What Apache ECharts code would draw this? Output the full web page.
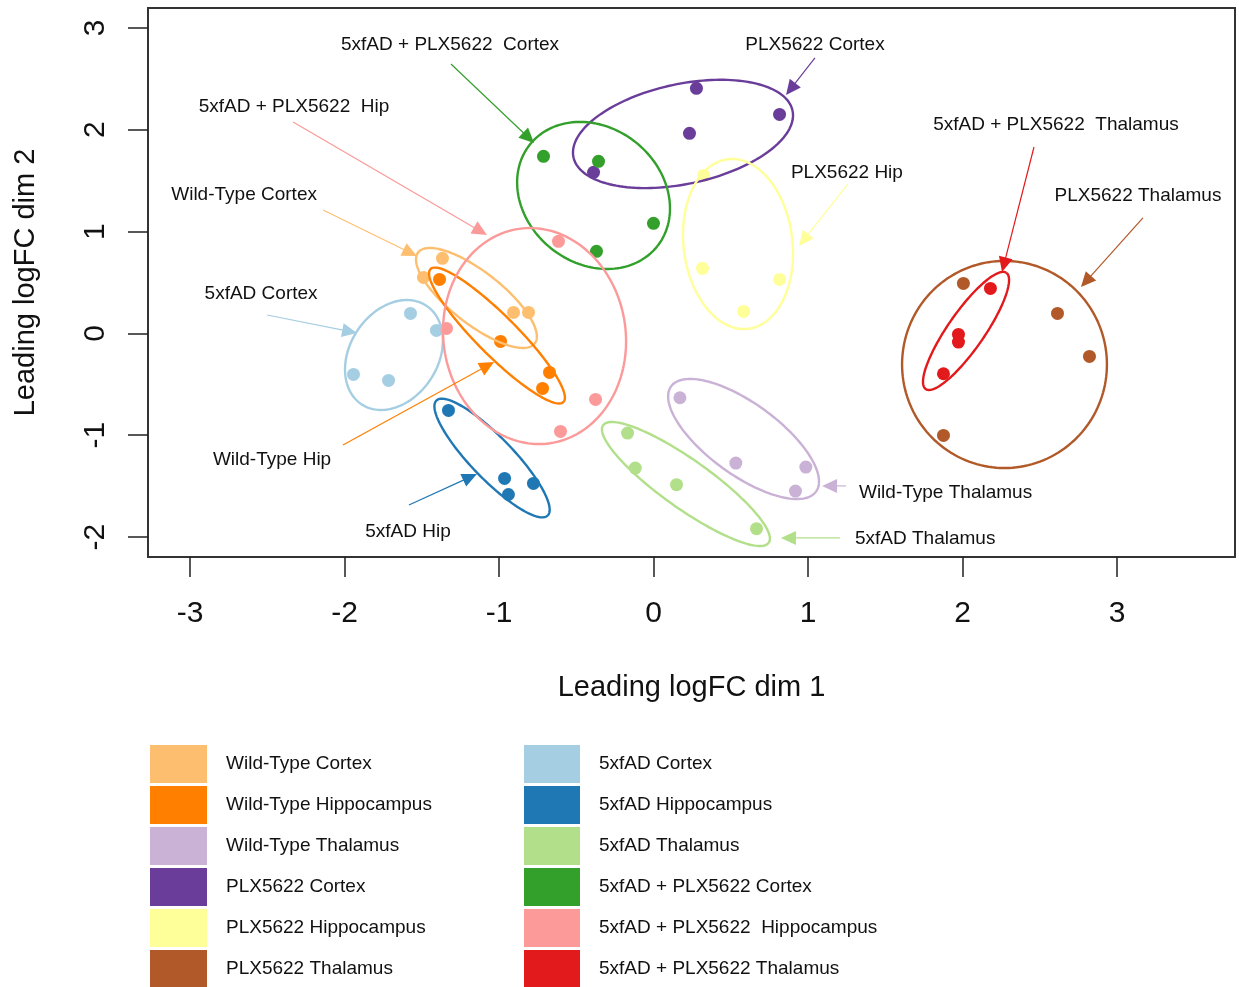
<!DOCTYPE html>
<html>
<head>
<meta charset="utf-8">
<script src="https://cdn.jsdelivr.net/npm/echarts@6/dist/echarts.min.js"></script>
<style>
html,body{margin:0;padding:0;background:#ffffff;}
#chart{width:1239px;height:987px;}
</style>
</head>
<body>
<div id="chart"></div>
<script>
// ---------------- DATA ----------------
const groupNames = [
  'Wild-Type Cortex', 'Wild-Type Hippocampus', 'Wild-Type Thalamus',
  'PLX5622 Cortex', 'PLX5622 Hippocampus', 'PLX5622 Thalamus',
  '5xfAD Cortex', '5xfAD Hippocampus', '5xfAD Thalamus',
  '5xfAD + PLX5622 Cortex', '5xfAD + PLX5622  Hippocampus', '5xfAD + PLX5622 Thalamus'
];
const groupColors = [
  '#FDBF6F', '#FF7F00', '#CAB2D6',
  '#6A3D9A', '#FFFF99', '#B15928',
  '#A6CEE3', '#1F78B4', '#B2DF8A',
  '#33A02C', '#FB9A99', '#E31A1C'
];

// [Leading logFC dim 1, Leading logFC dim 2]
const wtCortex     = [[-1.366, 0.737], [-1.489, 0.550], [-0.906, 0.206], [-0.809, 0.206]];
const wtHip        = [[-1.385, 0.530], [-0.990, -0.079], [-0.673, -0.383], [-0.718, -0.540]];
const wtThal       = [[0.171, -0.632], [0.533, -1.274], [0.986, -1.313], [0.919, -1.549]];
const plxCortex    = [[0.278, 2.407], [0.816, 2.151], [0.233, 1.965], [-0.388, 1.582]];
const plxHip       = [[0.324, 1.552], [0.317, 0.639], [0.816, 0.530], [0.583, 0.216]];
const plxThal      = [[2.006, 0.491], [2.615, 0.196], [2.822, -0.226], [1.877, -1.002]];
const fadCortex    = [[-1.573, 0.196], [-1.405, 0.029], [-1.942, -0.403], [-1.715, -0.462]];
const fadHip       = [[-1.327, -0.756], [-0.964, -1.424], [-0.777, -1.473], [-0.939, -1.582]];
const fadThal      = [[-0.168, -0.979], [-0.118, -1.323], [0.149, -1.486], [0.667, -1.918]];
const fadPlxCortex = [[-0.712, 1.739], [-0.356, 1.690], [0.000, 1.081], [-0.369, 0.806]];
const fadPlxHip    = [[-0.615, 0.904], [-1.340, 0.049], [-0.375, -0.648], [-0.602, -0.963]];
const fadPlxThal   = [[2.181, 0.442], [1.974, -0.010], [1.974, -0.085], [1.877, -0.396]];
const groupData = [wtCortex, wtHip, wtThal, plxCortex, plxHip, plxThal,
                   fadCortex, fadHip, fadThal, fadPlxCortex, fadPlxHip, fadPlxThal];

// group ellipses: [centre x, centre y, semi-axis A dx, A dy, semi-axis B dx, B dy, group]
const ellipses = [
  [-1.146, 0.348, 0.377, -0.448, -0.104, -0.201, 0],
  [-1.013, -0.021, 0.430, -0.653, -0.0915, -0.139, 1],
  [0.583, -1.037, 0.469, -0.517, -0.136, -0.284, 2],
  [0.191, 1.959, 0.709, 0.229, 0.0673, -0.480, 3],
  [0.547, 0.878, 0.0654, -0.833, -0.350, -0.0633, 4],
  [2.272, -0.305, 0.663, 0, 0, -1.017, 5],
  [-1.680, -0.212, 0.209, 0.485, 0.238, -0.237, 6],
  [-1.045, -1.224, 0.360, -0.565, -0.0978, -0.143, 7],
  [0.210, -1.479, 0.536, -0.577, -0.0908, -0.195, 8],
  [-0.388, 1.355, 0.412, -0.500, -0.274, -0.521, 9],
  [-0.770, -0.026, 0.100, -1.053, -0.584, -0.128, 10],
  [2.023, 0.024, 0.261, 0.571, 0.0973, -0.102, 11]
];

// annotations
const annotLabels = [
  '5xfAD + PLX5622  Cortex', 'PLX5622 Cortex', '5xfAD + PLX5622  Hip', 'Wild-Type Cortex',
  '5xfAD Cortex', 'Wild-Type Hip', '5xfAD Hip', 'PLX5622 Hip',
  '5xfAD + PLX5622  Thalamus', 'PLX5622 Thalamus', 'Wild-Type Thalamus', '5xfAD Thalamus'
];
const annotLabelPos = [
  [-1.317, 2.833], [1.045, 2.833], [-2.327, 2.224], [-2.650, 1.359],
  [-2.540, 0.387], [-2.469, -1.244], [-1.589, -1.951], [1.252, 1.575],
  [2.605, 2.046], [3.136, 1.349], [1.330, -1.568], [1.304, -2.020]
];
// arrow [from x, from y, to x, to y]
const annotArrows = [
  [-1.311, 2.646, -0.773, 1.870], [1.045, 2.705, 0.858, 2.342],
  [-2.333, 2.077, -1.078, 0.967], [-2.139, 1.212, -1.531, 0.760],
  [-2.501, 0.181, -1.919, 0.004], [-2.010, -1.096, -1.032, -0.281],
  [-1.583, -1.686, -1.143, -1.381], [1.259, 1.468, 0.942, 0.859],
  [2.463, 1.831, 2.256, 0.603], [3.168, 1.135, 2.767, 0.456],
  [1.246, -1.498, 1.091, -1.498], [1.207, -2.009, 0.825, -2.009]
];
const annotGroup = [9, 3, 10, 0, 6, 1, 7, 4, 11, 5, 2, 8];

const xTicks = [-3, -2, -1, 0, 1, 2, 3];
const yTicks = [-2, -1, 0, 1, 2, 3];
const xTitle = 'Leading logFC dim 1';
const yTitle = 'Leading logFC dim 2';

// ---------------- CHART ----------------
const FONT = '"Liberation Sans", Arial, Helvetica, sans-serif';
const chart = echarts.init(document.getElementById('chart'), null, {renderer: 'canvas'});

const scatterSeries = groupNames.map((name, i) => ({
  type: 'scatter',
  name: name,
  data: groupData[i],
  symbol: 'circle',
  symbolSize: 13,
  itemStyle: {color: groupColors[i], opacity: 1},
  z: 2,
  silent: true
}));

const ellipseSeries = {
  type: 'custom',
  name: 'ellipses',
  coordinateSystem: 'cartesian2d',
  data: ellipses,
  encode: {x: 0, y: 1},
  z: 3,
  silent: true,
  renderItem: function (params, api) {
    const e = ellipses[params.dataIndex];
    const pts = [];
    const n = 160;
    for (let k = 0; k <= n; k++) {
      const t = k / n * Math.PI * 2;
      pts.push(api.coord([
        e[0] + e[2] * Math.cos(t) + e[4] * Math.sin(t),
        e[1] + e[3] * Math.cos(t) + e[5] * Math.sin(t)
      ]));
    }
    return {
      type: 'polyline',
      shape: {points: pts},
      style: {fill: null, stroke: groupColors[e[6]], lineWidth: 2.4}
    };
  }
};

const arrowSeries = {
  type: 'custom',
  name: 'arrows',
  coordinateSystem: 'cartesian2d',
  data: annotArrows,
  encode: {x: [0, 2], y: [1, 3]},
  z: 4,
  silent: true,
  renderItem: function (params, api) {
    const a = annotArrows[params.dataIndex];
    const col = groupColors[annotGroup[params.dataIndex]];
    const p1 = api.coord([a[0], a[1]]);
    const p2 = api.coord([a[2], a[3]]);
    const dx = p2[0] - p1[0], dy = p2[1] - p1[1];
    const L = Math.hypot(dx, dy), ux = dx / L, uy = dy / L;
    const hl = 15, hw = 7;
    const bx = p2[0] - ux * hl, by = p2[1] - uy * hl;
    return {
      type: 'group',
      children: [
        {type: 'line', shape: {x1: p1[0], y1: p1[1], x2: bx + ux * 2, y2: by + uy * 2},
         style: {stroke: col, lineWidth: 1.2}},
        {type: 'polygon', shape: {points: [[p2[0], p2[1]], [bx - uy * hw, by + ux * hw], [bx + uy * hw, by - ux * hw]]},
         style: {fill: col, stroke: null}}
      ]
    };
  }
};

const labelSeries = {
  type: 'custom',
  name: 'labels',
  coordinateSystem: 'cartesian2d',
  data: annotLabelPos,
  encode: {x: 0, y: 1},
  z: 5,
  silent: true,
  renderItem: function (params, api) {
    const i = params.dataIndex;
    const p = api.coord(annotLabelPos[i]);
    return {
      type: 'text',
      x: p[0], y: p[1],
      style: {
        text: annotLabels[i],
        fill: '#111',
        font: '19px ' + FONT,
        align: i >= 10 ? 'left' : 'center',
        verticalAlign: 'middle'
      }
    };
  }
};

const legendCommon = {
  orient: 'vertical',
  padding: 0,
  height: 280,
  itemHeight: 38,
  itemGap: 3,
  icon: 'rect',
  selectedMode: false,
  textStyle: {fontSize: 19, fontFamily: FONT, color: '#111', padding: [6, 0, 0, 14]}
};

const option = {
  animation: false,
  backgroundColor: '#ffffff',
  grid: {
    left: 148, right: 4, top: 8, bottom: 430,
    show: true, borderColor: '#333', borderWidth: 2, backgroundColor: 'transparent'
  },
  xAxis: {
    type: 'value',
    min: -3.272, max: 3.764,
    axisLine: {show: false, onZero: false},
    splitLine: {show: false},
    axisTick: {show: true, length: 20, customValues: xTicks, lineStyle: {color: '#222', width: 1.5}},
    axisLabel: {customValues: xTicks, margin: 42, fontSize: 30, fontFamily: FONT, color: '#111'},
    name: xTitle,
    nameLocation: 'middle',
    nameGap: 116,
    nameTextStyle: {fontSize: 29, fontFamily: FONT, color: '#111'}
  },
  yAxis: {
    type: 'value',
    min: -2.196, max: 3.196,
    axisLine: {show: false, onZero: false},
    splitLine: {show: false},
    axisTick: {show: true, length: 20, customValues: yTicks, lineStyle: {color: '#222', width: 1.5}},
    axisLabel: {customValues: yTicks, margin: 37, rotate: 90, fontSize: 30, fontFamily: FONT, color: '#111'},
    name: yTitle,
    nameLocation: 'middle',
    nameGap: 108,
    nameTextStyle: {fontSize: 29, fontFamily: FONT, color: '#111'}
  },
  legend: [
    Object.assign({}, legendCommon, {left: 150, top: 745, itemWidth: 57, data: groupNames.slice(0, 6)}),
    Object.assign({}, legendCommon, {left: 524, top: 745, itemWidth: 56, data: groupNames.slice(6, 12)})
  ],
  series: scatterSeries.concat([ellipseSeries, arrowSeries, labelSeries])
};

chart.setOption(option);
</script>
</body>
</html>
